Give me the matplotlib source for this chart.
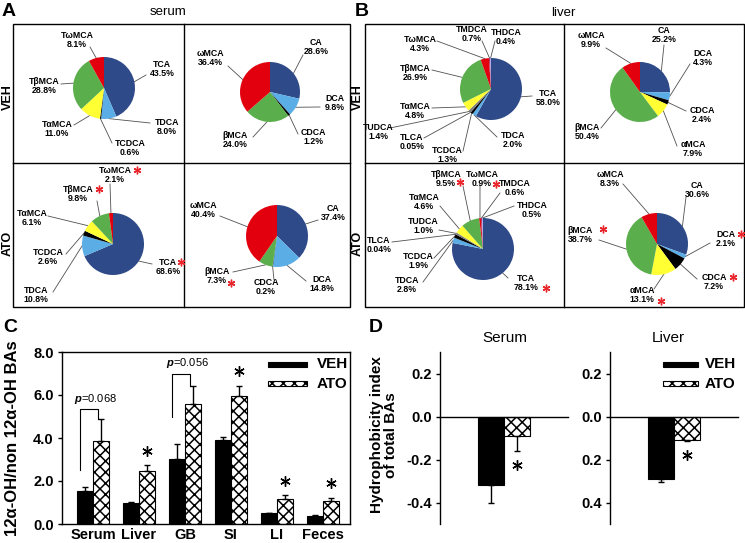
import numpy as np
import matplotlib
matplotlib.use('Agg')
import matplotlib.pyplot as plt
from matplotlib.patches import Rectangle

plt.rcParams['font.family'] = ['Liberation Sans', 'DejaVu Sans']
plt.rcParams['font.weight'] = 'bold'
plt.rcParams['axes.labelweight'] = 'bold'
plt.rcParams['mathtext.fontset'] = 'custom'
plt.rcParams['mathtext.it'] = 'Liberation Sans:italic'
plt.rcParams['mathtext.rm'] = 'Liberation Sans'
plt.rcParams['hatch.linewidth'] = 1.1

W, H = 745, 543

# ---- pie data (percent of total BAs) ----
serum_conj_names = ['TCA', 'TDCA', 'TCDCA', 'TαMCA', 'TβMCA', 'TωMCA']
serum_veh_conj = [43.5, 8.0, 0.6, 11.0, 28.8, 8.1]
serum_ato_conj = [68.6, 10.8, 2.6, 6.1, 9.8, 2.1]
serum_unconj_names = ['CA', 'DCA', 'CDCA', 'βMCA', 'ωMCA']
serum_veh_unconj = [28.6, 9.8, 1.2, 24.0, 36.4]
serum_ato_unconj = [37.4, 14.8, 0.2, 7.3, 40.4]
liver_conj_names = ['TCA', 'TDCA', 'TCDCA', 'TLCA', 'TUDCA', 'TαMCA', 'TβMCA',
                    'TωMCA', 'TMDCA', 'THDCA']
liver_veh_conj = [58.0, 2.0, 1.3, 0.05, 1.4, 4.8, 26.9, 4.3, 0.7, 0.4]
liver_ato_conj = [78.1, 2.8, 1.9, 0.04, 1.0, 4.6, 9.5, 0.9, 0.6, 0.5]
liver_unconj_names = ['CA', 'DCA', 'CDCA', 'αMCA', 'βMCA', 'ωMCA']
liver_veh_unconj = [25.2, 4.3, 2.4, 7.9, 50.4, 9.9]
liver_ato_unconj = [30.6, 2.1, 7.2, 13.1, 38.7, 8.3]

# ---- panel C: 12a-OH / non 12a-OH ----
groups = ['Serum', 'Liver', 'GB', 'SI', 'LI', 'Feces']
veh_ratio = [1.54, 0.99, 3.04, 3.92, 0.49, 0.37]
veh_ratio_err = [0.19, 0.04, 0.69, 0.12, 0.03, 0.03]
ato_ratio = [3.84, 2.47, 5.56, 5.97, 1.14, 1.08]
ato_ratio_err = [1.05, 0.26, 0.84, 0.47, 0.20, 0.15]
ratio_sig = [False, True, False, True, True, True]

# ---- panel D: hydrophobicity index ----
hi_serum = [-0.32, -0.09]
hi_serum_err = [0.08, 0.07]
hi_liver = [-0.29, -0.11]
hi_liver_err = [0.015, 0.004]

colour = {
    'CA': '#2E4A88', 'DCA': '#5BADE6', 'CDCA': '#000000', 'αMCA': '#FFFF33',
    'βMCA': '#5BAE4C', 'ωMCA': '#E2000F', 'LCA': '#C0C0C0', 'UDCA': '#7F7F7F',
    'MDCA': '#B03060', 'HDCA': '#A0A0F0',
}
RED = '#E8262B'


def col(name):
    key = name[1:] if name.startswith('T') else name
    return colour[key]


def pct(v):
    return f'{v:.2f}%' if v < 0.1 else f'{v:.1f}%'


fig = plt.figure(figsize=(W / 100, H / 100), dpi=100)
ov = fig.add_axes([0, 0, 1, 1])
ov.set_xlim(0, W)
ov.set_ylim(H, 0)
ov.axis('off')


def px_axes(x0, y0, x1, y1):
    return fig.add_axes([x0 / W, 1 - y1 / H, (x1 - x0) / W, (y1 - y0) / H])


def draw_pie(vals, names, centre, r, layout, stars=()):
    cx, cy = centre
    ax = px_axes(cx - 1.02 * r, cy - 1.02 * r, cx + 1.02 * r, cy + 1.02 * r)
    wedges, _ = ax.pie(vals, colors=[col(n) for n in names], startangle=90,
                       counterclock=False, wedgeprops=dict(linewidth=0))
    ax.set_xlim(-1.02, 1.02)
    ax.set_ylim(-1.02, 1.02)
    to_ov = ax.transData + ov.transData.inverted()
    for w, name, v, (lx, ly, axx, ayy) in zip(wedges, names, vals, layout):
        th = np.deg2rad((w.theta1 + w.theta2) / 2)
        ex, ey = to_ov.transform((np.cos(th), np.sin(th)))
        ov.plot([axx, ex], [ayy, ey], color='#505050', lw=0.6)
        ov.text(lx, ly, f'{name}\n{pct(v)}', ha='center', va='center',
                fontsize=6.3, linespacing=1.05)
    for sx, sy in stars:
        ov.plot(sx, sy, marker=(6, 2, 0), ms=5.5, color=RED, mew=1.0)


# panel frames
ov.add_patch(Rectangle((13, 24), 337, 283, fill=False, lw=1))
ov.plot([184, 184], [24, 307], color='black', lw=1)
ov.plot([13, 350], [163, 163], color='black', lw=1)
ov.add_patch(Rectangle((365, 24), 379, 283, fill=False, lw=1))
ov.plot([564, 564], [24, 307], color='black', lw=1)
ov.plot([365, 744], [163, 163], color='black', lw=1)

for x, y, s in [(9, 12, 'A'), (362, 12, 'B'), (10, 327, 'C'), (376, 327, 'D')]:
    ov.text(x, y, s, fontsize=14, ha='center', va='center')
ov.text(168, 12, 'serum', fontsize=9.5, fontweight='normal', ha='center', va='center')
ov.text(563, 13, 'liver', fontsize=9.5, fontweight='normal', ha='center', va='center')
for x, y, s in [(8, 97, 'VEH'), (8, 243, 'ATO'), (358, 97, 'VEH'), (358, 243, 'ATO')]:
    ov.text(x, y, s, rotation=90, fontsize=9, ha='center', va='center')

draw_pie(serum_veh_conj, serum_conj_names, (104, 88), 31,
         [(162, 69, 146, 75), (167, 127, 150, 123), (130, 148, 112, 143),
          (57, 129, 74, 125), (44, 86, 61, 84), (77, 40, 90, 47)])
draw_pie(serum_veh_unconj, serum_unconj_names, (270, 92), 30,
         [(316, 47, 303, 55), (335, 103, 320, 107), (313, 137, 298, 134),
          (235, 140, 253, 137), (210, 58, 228, 66)])
draw_pie(serum_ato_conj, serum_conj_names, (113, 244), 31,
         [(168, 267, 152, 264), (36, 295, 53, 292), (48, 257, 66, 254),
          (32, 218, 48, 216), (78, 194, 97, 201), (115, 175, 110, 184)],
         [(181, 262), (99, 189), (137, 170)])
draw_pie(serum_ato_unconj, serum_unconj_names, (277, 236), 31,
         [(333, 213, 318, 220), (322, 284, 306, 281), (266, 287, 274, 280),
          (217, 276, 233, 272), (203, 210, 220, 216)],
         [(231, 283)])
draw_pie(liver_veh_conj, liver_conj_names, (491, 89), 31,
         [(548, 98, 532, 96), (513, 140, 497, 137), (447, 155, 463, 151),
          (412, 142, 424, 138), (378, 132, 390, 128), (415, 111, 432, 108),
          (415, 73, 432, 70), (420, 44, 437, 41), (472, 34, 482, 41),
          (506, 37, 495, 41)])
draw_pie(liver_veh_unconj, liver_unconj_names, (640, 92), 30,
         [(664, 35, 664, 45), (703, 58, 690, 64), (702, 115, 686, 111),
          (693, 149, 677, 146), (587, 132, 601, 128), (591, 40, 606, 48)])
draw_pie(liver_ato_conj, liver_conj_names, (483, 249), 31,
         [(526, 283, 508, 278), (407, 285, 423, 282), (418, 261, 434, 258),
          (379, 245, 392, 242), (423, 226, 439, 230), (424, 202, 440, 206),
          (446, 179, 463, 186), (482, 179, 480, 185), (515, 188, 500, 193),
          (532, 210, 514, 206)],
         [(546, 288), (460, 182), (496, 184)])
draw_pie(liver_ato_unconj, liver_unconj_names, (657, 244), 31,
         [(697, 190, 686, 197), (726, 239, 710, 243), (714, 282, 697, 279),
          (642, 295, 654, 289), (580, 235, 599, 240), (610, 179, 623, 184)],
         [(741, 234), (733, 277), (661, 301), (603, 229)])

# ---- panel C ----
axc = px_axes(62, 352, 350, 524)
axc.set_facecolor('none')
x = np.arange(len(groups))
w = 0.35
axc.bar(x - w / 2, veh_ratio, w, color='black', edgecolor='black', lw=0.8)
axc.bar(x + w / 2, ato_ratio, w, color='white', edgecolor='black', hatch='xxx', lw=0.8)
zeros = np.zeros(len(groups))
axc.errorbar(x - w / 2, veh_ratio, yerr=[zeros, veh_ratio_err], fmt='none',
             ecolor='black', elinewidth=1, capsize=2.5, capthick=1)
axc.errorbar(x + w / 2, ato_ratio, yerr=[zeros, ato_ratio_err], fmt='none',
             ecolor='black', elinewidth=1, capsize=2.5, capthick=1)
for i, s in enumerate(ratio_sig):
    if s:
        axc.plot(x[i] + w / 2, ato_ratio[i] + ato_ratio_err[i] + 0.68,
                 marker=(6, 2, 0), ms=7.5, color='black', mew=1.0)
for i, y_left, y_top, txt in [(0, 2.5, 5.35, '$p$=0.068'), (2, 5.0, 7.0, '$p$=0.056')]:
    xl, xr = x[i] - 0.8 * w, x[i] + 0.3 * w
    axc.plot([xl, xl, xr, xr], [y_left, y_top, y_top, ato_ratio[i] + ato_ratio_err[i]],
             color='black', lw=0.8)
    axc.text(x[i] + 0.05, y_top + 0.15, txt, ha='center', va='bottom',
             fontsize=8, fontweight='normal')
axc.set_xlim(-0.674, 5.587)
axc.set_ylim(0, 8)
axc.set_yticks([0, 2, 4, 6, 8])
axc.set_yticklabels(['0.0', '2.0', '4.0', '6.0', '8.0'])
axc.set_xticks(x)
axc.set_xticklabels(groups)
axc.tick_params(axis='x', length=0, labelsize=10.5, pad=3)
axc.tick_params(axis='y', direction='out', length=3, width=1, labelsize=10.5, pad=3)
axc.set_ylabel('12α-OH/non 12α-OH BAs', fontsize=12)
axc.yaxis.set_label_coords(-0.146, 0.5)
for sp in axc.spines.values():
    sp.set_linewidth(1)

# legends (C and D)
for lx, tx, wd in [(268, 317, 39), (663, 705, 35)]:
    ov.add_patch(Rectangle((lx, 361.5), wd, 5, facecolor='black', edgecolor='black', lw=0.8))
    ov.add_patch(Rectangle((lx, 380.5), wd, 5, facecolor='white', edgecolor='black',
                           hatch='xxx', lw=0.8))
    ov.text(tx, 364, 'VEH', fontsize=11, ha='left', va='center')
    ov.text(tx, 383.5, 'ATO', fontsize=11, ha='left', va='center')

# ---- panel D ----
ov.text(384, 435, 'Hydrophobicity index\nof total BAs', rotation=90, fontsize=11,
        ha='center', va='center', multialignment='center', linespacing=1.0)
for (x0, x1), vals, errs, title, tx, ticklabs in [
        ((440, 568), hi_serum, hi_serum_err, 'Serum', 505, ['0.2', '0.0', '-0.2', '-0.4']),
        ((610, 738), hi_liver, hi_liver_err, 'Liver', 668, ['0.2', '0.0', '0.2', '0.4'])]:
    axd = px_axes(x0, 352, x1, 524)
    axd.set_facecolor('none')
    xd = np.arange(2)
    axd.bar(xd[0], vals[0], 1.0, color='black', edgecolor='black', lw=0.8)
    axd.bar(xd[1], vals[1], 1.0, color='white', edgecolor='black', hatch='xxx', lw=0.8)
    axd.errorbar(xd, vals, yerr=[errs, [0, 0]], fmt='none', ecolor='black',
                 elinewidth=1, capsize=2.5, capthick=1)
    axd.plot(xd[1], vals[1] - errs[1] - 0.065, marker=(6, 2, 0), ms=7.5,
             color='black', mew=1.0)
    axd.set_xlim(-1.97, 2.95)
    axd.set_ylim(-0.5, 0.3)
    axd.set_yticks([0.2, 0.0, -0.2, -0.4])
    axd.set_yticklabels(ticklabs)
    axd.set_xticks([])
    axd.spines['top'].set_visible(False)
    axd.spines['right'].set_visible(False)
    axd.spines['bottom'].set_position(('data', 0))
    axd.spines['bottom'].set_linewidth(1)
    axd.spines['left'].set_linewidth(1)
    axd.tick_params(axis='y', direction='out', length=3, width=1, labelsize=10.5, pad=3)
    ov.text(tx, 338, title, fontsize=11, fontweight='normal', ha='center', va='center')

fig.savefig('out.png', dpi=100)
